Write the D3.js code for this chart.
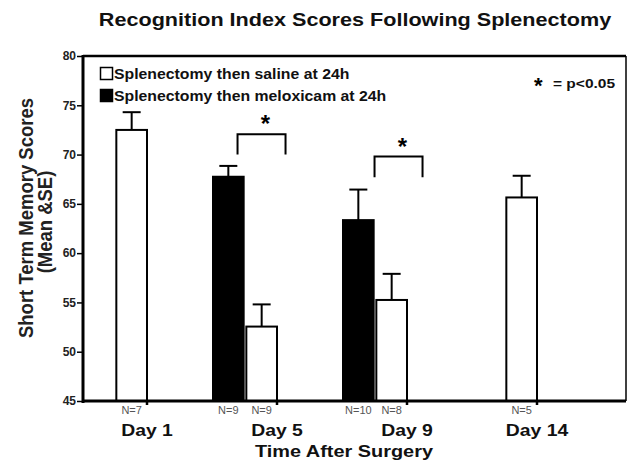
<!DOCTYPE html>
<html><head><meta charset="utf-8">
<script src="https://cdn.jsdelivr.net/npm/d3@7"></script>
<style>body{margin:0;background:#fff;font-family:Arial,"Liberation Sans",sans-serif}</style>
</head><body>
<svg id="c" width="629" height="461"></svg>
<script>
const days = ["Day 1","Day 5","Day 9","Day 14"];
const series = ["meloxicam","saline"];
const seriesLabels = ["Splenectomy then saline at 24h","Splenectomy then meloxicam at 24h"];
const salineMean = [72.5, 52.55, 55.25, 65.65];
const salineErr  = [74.3, 54.8, 57.9, 67.85];
const meloxMean  = [null, 67.75, 63.35, null];
const meloxErr   = [null, 68.85, 66.45, null];
const salineN = ["N=7","N=9","N=8","N=5"];
const meloxN  = [null,"N=9","N=10",null];
const yTicks = [45,50,55,60,65,70,75,80];
// significance brackets: day, legs bottom value, top value
const sigDays = ["Day 5","Day 9"];
const sigTop = [72.05, 69.8];
const sigBottom = [70.0, 67.7];

const svg = d3.select("#c");
const L=83, R=626, T=56, B=401;
const y = d3.scaleLinear().domain([45,80]).range([B,T]);
const x0 = d3.scaleBand().domain(days).range([L, L+4*130]);
const x1 = d3.scaleBand().domain(series).range([0,64]).paddingInner(0.08);

// horizontally stretched text helper (reference image is slightly wide)
function htext(parent, x, yy, txt, size, anchor, sx, weight, fill, rot){
  return parent.append("text")
    .attr("transform",`translate(${x},${yy}) scale(${sx},1)${rot?` rotate(${rot})`:""}`)
    .attr("text-anchor",anchor).attr("font-size",size)
    .attr("font-weight",weight||"bold").attr("fill",fill||"#111").text(txt);
}

const data=[];
days.forEach((d,i)=>{
  if(meloxMean[i]!=null) data.push({day:d,s:"meloxicam",v:meloxMean[i],e:meloxErr[i],n:meloxN[i]});
  data.push({day:d,s:"saline",v:salineMean[i],e:salineErr[i],n:salineN[i]});
});

// frame top/right
svg.append("line").attr("x1",L).attr("x2",R).attr("y1",T).attr("y2",T).attr("stroke","#000").attr("stroke-width",2.5);
svg.append("line").attr("x1",R).attr("x2",R).attr("y1",T).attr("y2",B).attr("stroke","#000").attr("stroke-width",1.5);

const bw = x1.bandwidth();
const g = svg.append("g");
// error bars
data.forEach(d=>{
  const cx = x0(d.day)+x1(d.s)+bw/2;
  g.append("line").attr("x1",cx).attr("x2",cx).attr("y1",y(d.v)).attr("y2",y(d.e)).attr("stroke","#000").attr("stroke-width",2);
  g.append("line").attr("x1",cx-9).attr("x2",cx+9).attr("y1",y(d.e)).attr("y2",y(d.e)).attr("stroke","#000").attr("stroke-width",2);
});
g.selectAll("rect.bar").data(data).enter().append("rect")
  .attr("x",d=>x0(d.day)+x1(d.s)).attr("width",bw)
  .attr("y",d=>y(d.v)).attr("height",d=>B-y(d.v))
  .attr("fill",d=>d.s==="saline"?"#fff":"#000").attr("stroke","#000").attr("stroke-width",2);

// N labels
data.forEach(d=>{
  htext(g, x0(d.day)+x1(d.s)+bw/2, B+13, d.n, 10, "middle", 1.1, "normal", "#555");
});

// y axis
const ya = svg.append("g").attr("transform",`translate(${L},0)`)
  .call(d3.axisLeft(y).tickValues(yTicks).tickSize(6).tickPadding(1));
ya.select(".domain").remove();
ya.selectAll(".tick line").attr("stroke-width",1.5);
ya.selectAll("text").attr("font-size",12).attr("font-weight","bold").attr("fill","#222").attr("font-family","Arial");
svg.append("line").attr("x1",L).attr("x2",L).attr("y1",T-1).attr("y2",B+2).attr("stroke","#000").attr("stroke-width",3);

// x axis
svg.append("line").attr("x1",L-1).attr("x2",R).attr("y1",B).attr("y2",B).attr("stroke","#000").attr("stroke-width",3);
days.forEach(d=>{
  const tx = x0(d)+64;
  svg.append("line").attr("x1",tx).attr("x2",tx).attr("y1",B).attr("y2",B+4).attr("stroke","#000").attr("stroke-width",2.5);
  htext(svg, tx, B+35, d, 17, "middle", 1.14);
});

// significance brackets
sigDays.forEach((d,i)=>{
  const xa = x0(d)+x1("meloxicam")+bw*0.8 + (i===1?7:0);
  const xb = xa+48;
  svg.append("path").attr("d",`M${xa},${y(sigBottom[i])}V${y(sigTop[i])}H${xb}V${y(sigBottom[i])}`)
    .attr("fill","none").attr("stroke","#000").attr("stroke-width",2);
  svg.append("text").attr("x",(xa+xb)/2+4).attr("y",y(sigTop[i])-2).attr("text-anchor","middle")
    .attr("font-size",24).attr("font-weight","bold").text("*");
});

// legend
const leg = svg.append("g");
seriesLabels.forEach((t,i)=>{
  leg.append("rect").attr("x",100.5).attr("y",67.5+i*22).attr("width",12).attr("height",12)
    .attr("fill",i===0?"#fff":"#000").attr("stroke","#000").attr("stroke-width",1.5);
  htext(leg, 114, 78.5+i*22, t, 14, "start", 1.13);
});
svg.append("text").attr("x",534).attr("y",93).attr("font-size",22).attr("font-weight","bold").text("*");
htext(svg, 553, 88, "= p<0.05", 13.5, "start", 1.15);

// titles
htext(svg, 355, 26, "Recognition Index Scores Following Splenectomy", 18, "middle", 1.2);
htext(svg, 344, 457, "Time After Surgery", 17, "middle", 1.17);
htext(svg, 33, 218, "Short Term Memory Scores", 18.5, "middle", 1.12, "bold", "#222", -90);
htext(svg, 52, 222, "(Mean &SE)", 18.5, "middle", 1.12, "bold", "#222", -90);
</script>
</body></html>
